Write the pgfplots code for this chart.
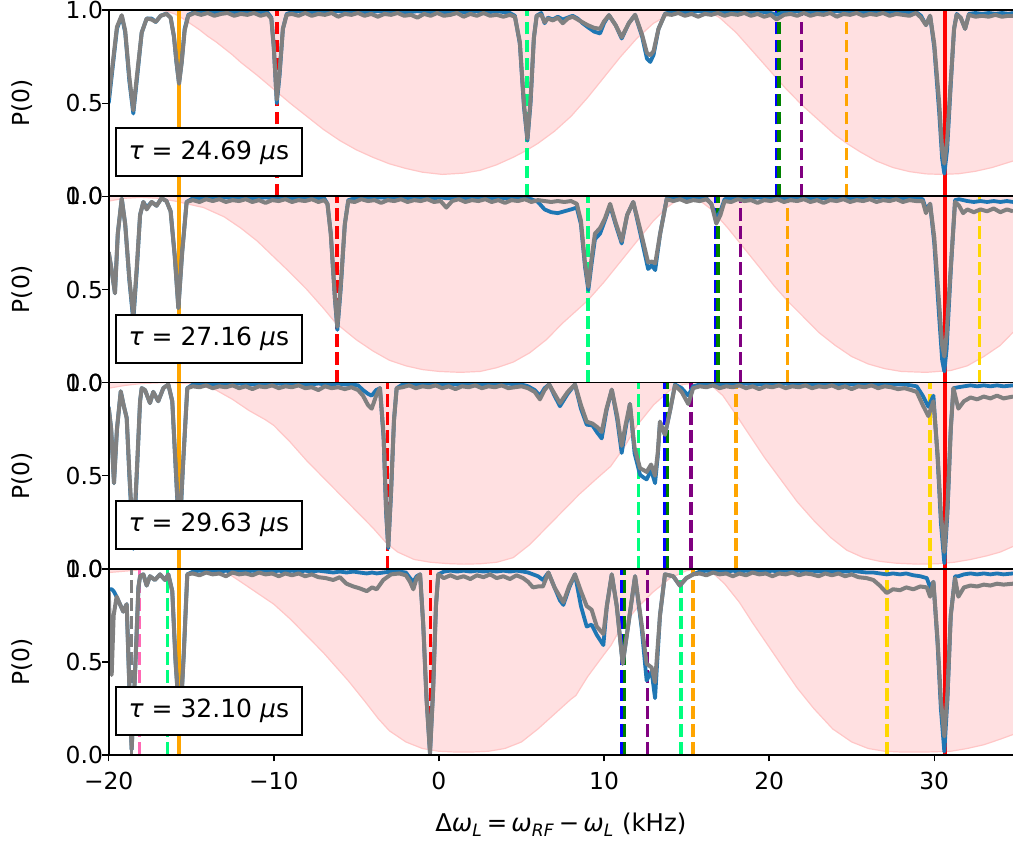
\documentclass[border=0pt]{standalone}
\usepackage{fontspec}
\setmainfont{DejaVu Sans}
\usepackage{pgfplots}
\pgfplotsset{compat=1.18}
\usepackage{pgfplotstable}

\definecolor{mplblue}{RGB}{31,119,180}
\definecolor{mplgray}{RGB}{128,128,128}
\definecolor{pinkbg}{RGB}{255,224,225}
\definecolor{pinkln}{RGB}{255,198,198}
\definecolor{sgreen}{RGB}{0,255,127}
\definecolor{mgreen}{RGB}{0,128,0}
\definecolor{mblue}{RGB}{0,0,255}
\definecolor{mpurple}{RGB}{128,0,128}
\definecolor{morange}{RGB}{255,165,0}
\definecolor{mgold}{RGB}{255,215,0}
\definecolor{mpink}{RGB}{255,105,180}
\definecolor{mcyan}{RGB}{0,191,191}
\definecolor{mred}{RGB}{255,0,0}

\newcommand\tf{\fontsize{11.7}{14}\selectfont}
\newcommand\lf{\fontsize{12.2}{14}\selectfont}
\newcommand{\vl}[2]{\addplot[#1, line width=1.75pt, dash pattern=on 6.3pt off 2.7pt, forget plot] coordinates {(#2,0) (#2,1)};}
\newcommand{\vs}[2]{\addplot[#1, line width=2pt, forget plot] coordinates {(#2,0) (#2,1)};}

\pgfplotsset{
  panel/.style={
    scale only axis, width=452.15pt, height=93.1pt,
    xmin=-20, xmax=34.77, ymin=0, ymax=1,
    axis line style={draw=none},
    axis background/.style={fill=pinkbg},
    clip mode=individual,
    ytick={0,0.5,1}, yticklabels={0.0,0.5,1.0},
    tick align=outside, major tick length=3.2pt,
    every tick/.style={black, line width=0.75pt},
    ytick pos=left, xtick pos=left,
    tick label style={font=\tf},
    yticklabel style={anchor=east, inner sep=0pt, xshift=0.5pt},
    ylabel={P(0)},
    ylabel style={at={(axis description cs:-0.0959,0.5)}, anchor=center, inner sep=0pt, font=\tf},
  },
  blu/.style={mplblue, line width=1.9pt, line join=round},
  gry/.style={mplgray, line width=2.0pt, line join=round},
}
\newcommand{\spines}{\draw[line width=0.9pt] (rel axis cs:1,0) -- (rel axis cs:0,0) -- (rel axis cs:0,1) -- (rel axis cs:1,1);}
\newcommand{\taubox}[1]{\node[draw=black, line width=1pt, fill=white, anchor=south west, inner xsep=6.3pt, inner ysep=0pt, minimum height=24pt, font=\fontsize{12.5}{15}\selectfont] at ([xshift=3.15pt,yshift=9.5pt]rel axis cs:0,0) {\textit{τ} = #1 \textit{μ}s};}
\newcommand{\pinkcurve}[1]{%
  \addplot[fill=white, draw=none, forget plot] table[x=x,y=y]{#1} \closedcycle;
  \addplot[pinkln, line width=0.6pt, forget plot] table[x=x,y=y]{#1};}

% ---------------- pink filter curves ----------------
\pgfplotstableread{
x y
-20 1.0
-17 1.0
-16.5 0.995
-16 0.98
-15.5 0.955
-15 0.925
-14.5 0.895
-14 0.86
-13.5 0.83
-13 0.795
-12.5 0.76
-12 0.72
-11 0.65
-10 0.575
-9 0.50
-8 0.43
-7 0.36
-6 0.30
-5 0.25
-4 0.21
-3 0.175
-2 0.15
-1 0.13
0.2 0.118
1.5 0.125
2.5 0.14
3.5 0.17
4.5 0.21
5.3 0.247
6 0.285
7 0.35
8 0.43
9 0.53
10 0.64
11 0.75
12 0.85
13 0.93
14 0.98
14.7 0.997
15.3 1.0
15.9 0.997
16.5 0.985
17 0.96
18 0.88
19 0.78
20 0.68
21 0.58
22 0.49
23 0.41
24 0.33
24.7 0.285
25.5 0.24
26.5 0.19
27.5 0.155
28.5 0.133
29.5 0.121
30.45 0.118
31.5 0.122
32.5 0.135
33.5 0.155
34.77 0.19
}\pA
\pgfplotstableread{
x y
-20 0.975
-19 0.99
-18 0.995
-17 0.99
-16 0.975
-15 0.955
-14.25 0.94
-13 0.89
-12 0.83
-11 0.76
-10 0.675
-9 0.59
-8 0.50
-7 0.40
-6.25 0.32
-5 0.23
-4 0.17
-3 0.12
-2 0.09
-1 0.07
0 0.06
1.3 0.055
2.5 0.06
3.5 0.08
4.5 0.11
5.5 0.16
6.5 0.23
7.5 0.32
8.5 0.40
9 0.44
10 0.54
11 0.65
12 0.76
13 0.87
13.8 0.94
14.5 0.985
15.1 1.0
15.7 0.985
16.5 0.93
17.5 0.83
18.5 0.72
19.5 0.61
20.3 0.52
21.1 0.44
22 0.36
23 0.27
24 0.20
25 0.14
26 0.10
27 0.075
28 0.06
29.5 0.055
31 0.065
32 0.09
33 0.14
34 0.20
34.77 0.27
}\pB
\pgfplotstableread{
x y
-20 0.97
-19 0.985
-18 0.995
-16.5 1.0
-15 0.995
-14.5 0.985
-13.5 0.96
-12.5 0.91
-11.5 0.85
-10.5 0.80
-10 0.77
-9 0.68
-8 0.58
-7 0.49
-6 0.40
-5 0.31
-4 0.22
-3.2 0.14
-2.5 0.09
-1.5 0.05
-0.5 0.035
0.5 0.028
1.5 0.025
2.5 0.027
3.5 0.035
4.5 0.06
5.5 0.13
6.5 0.22
7.5 0.31
8.5 0.40
9.5 0.48
10.4 0.55
11.2 0.65
12 0.77
13 0.88
14 0.96
14.8 0.99
15.7 1.0
16.5 0.985
17.2 0.93
17.9 0.84
18.8 0.72
19.7 0.60
20.7 0.48
21.7 0.36
22.7 0.26
23.7 0.17
24.7 0.10
25.7 0.06
26.7 0.04
27.7 0.03
29.0 0.025
30.2 0.027
31.2 0.035
32.2 0.05
33.2 0.07
34 0.09
34.77 0.12
}\pC
\pgfplotstableread{
x y
-20 0.98
-18 0.995
-16 1.0
-13.5 0.995
-12.85 0.98
-12 0.93
-11 0.87
-10 0.81
-9 0.73
-8 0.64
-7 0.55
-6.5 0.50
-5.5 0.40
-4.5 0.29
-3.67 0.195
-3 0.13
-2 0.07
-1 0.035
0 0.02
1 0.016
2 0.016
3 0.02
4 0.035
5 0.07
6 0.14
7 0.22
8 0.30
8.3 0.32
9 0.42
10 0.54
10.43 0.59
11 0.68
12 0.79
12.9 0.87
14 0.95
15 0.99
15.7 1.0
16.5 0.985
17.3 0.92
18.2 0.82
19 0.71
20 0.58
21 0.45
21.7 0.36
22.7 0.25
23.85 0.14
25 0.07
26 0.035
27 0.02
28 0.016
29.5 0.016
31 0.02
32 0.035
33 0.055
34 0.085
34.77 0.11
}\pD

% ---------------- measured P(0) curves: x, blue, gray ----------------
\pgfplotstableread{
x b g
-20.00 0.50 0.53
-19.80 0.66 0.68
-19.50 0.90 0.91
-19.21 0.97 0.973
-19.00 0.88 0.89
-18.75 0.62 0.64
-18.51 0.445 0.462
-18.30 0.62 0.64
-18.00 0.88 0.88
-17.70 0.955 0.955
-17.40 0.955 0.95
-17.15 0.937 0.937
-16.85 0.97 0.97
-16.50 0.982 0.98
-16.25 0.96 0.96
-16.05 0.86 0.86
-15.90 0.72 0.73
-15.74 0.606 0.606
-15.58 0.72 0.72
-15.40 0.90 0.89
-15.18 0.975 0.97
-14.80 0.99 0.985
-14.40 0.99 0.975
-14.00 0.995 0.985
-13.60 0.99 0.97
-13.20 0.99 0.98
-12.80 0.995 0.985
-12.40 0.99 0.97
-12.00 0.99 0.98
-11.60 0.995 0.975
-11.20 0.99 0.985
-10.80 0.99 0.97
-10.40 0.99 0.98
-10.15 0.96 0.955
-10.00 0.80 0.80
-9.82 0.50 0.52
-9.65 0.65 0.67
-9.45 0.90 0.90
-9.22 0.98 0.975
-8.90 0.99 0.98
-8.50 0.995 0.97
-8.10 0.99 0.985
-7.70 0.99 0.97
-7.30 0.995 0.98
-6.90 0.99 0.975
-6.50 0.99 0.985
-6.10 0.995 0.965
-5.70 0.99 0.98
-5.30 0.99 0.975
-4.90 0.995 0.985
-4.50 0.99 0.97
-4.10 0.99 0.98
-3.70 0.995 0.965
-3.30 0.99 0.98
-2.90 0.99 0.975
-2.50 0.995 0.985
-2.10 0.99 0.97
-1.70 0.99 0.975
-1.30 0.995 0.96
-0.90 0.99 0.98
-0.50 0.99 0.97
-0.10 0.995 0.985
0.30 0.99 0.97
0.70 0.99 0.975
1.10 0.995 0.985
1.50 0.99 0.965
1.90 0.99 0.98
2.30 0.995 0.97
2.70 0.99 0.985
3.10 0.99 0.97
3.50 0.995 0.975
3.90 0.99 0.965
4.30 0.985 0.975
4.60 0.97 0.965
4.90 0.82 0.83
5.15 0.48 0.50
5.36 0.30 0.31
5.55 0.50 0.52
5.75 0.85 0.85
5.92 0.97 0.97
6.20 0.985 0.975
6.40 0.93 0.935
6.60 0.96 0.955
6.90 0.95 0.945
7.20 0.965 0.96
7.50 0.95 0.93
7.80 0.96 0.955
8.10 0.97 0.965
8.40 0.955 0.95
8.70 0.93 0.935
9.00 0.91 0.92
9.40 0.885 0.905
9.76 0.875 0.90
10.00 0.93 0.94
10.30 0.973 0.973
10.70 0.92 0.92
11.07 0.848 0.855
11.50 0.93 0.93
11.88 0.975 0.975
12.30 0.86 0.87
12.60 0.74 0.77
12.80 0.722 0.758
13.00 0.76 0.78
13.30 0.90 0.90
13.70 0.982 0.98
14.10 0.99 0.975
14.50 0.995 0.985
14.90 0.99 0.97
15.30 0.99 0.98
15.70 0.995 0.965
16.10 0.99 0.98
16.50 0.99 0.975
16.90 0.995 0.985
17.30 0.99 0.97
17.70 0.99 0.98
18.10 0.995 0.975
18.50 0.99 0.985
18.90 0.99 0.97
19.30 0.995 0.98
19.70 0.99 0.965
20.10 0.985 0.975
20.45 0.975 0.95
20.90 0.99 0.975
21.30 0.99 0.98
21.70 0.995 0.97
22.10 0.99 0.985
22.50 0.99 0.97
22.90 0.995 0.98
23.30 0.99 0.975
23.70 0.99 0.985
24.10 0.995 0.965
24.50 0.99 0.98
24.90 0.99 0.975
25.30 0.995 0.985
25.70 0.99 0.97
26.10 0.99 0.98
26.50 0.995 0.975
26.90 0.99 0.985
27.30 0.99 0.97
27.70 0.995 0.98
28.10 0.99 0.975
28.50 0.985 0.97
28.90 0.99 0.985
29.20 0.97 0.96
29.50 0.92 0.92
29.75 0.97 0.97
30.00 0.80 0.82
30.30 0.45 0.50
30.48 0.20 0.25
30.61 0.122 0.176
30.78 0.25 0.30
31.00 0.60 0.62
31.20 0.90 0.90
31.36 0.98 0.975
31.60 0.96 0.96
31.87 0.90 0.90
32.10 0.98 0.975
32.50 0.985 0.965
32.90 0.98 0.97
33.30 0.985 0.965
33.70 0.98 0.975
34.10 0.985 0.965
34.50 0.98 0.97
34.77 0.985 0.97
}\tA
\pgfplotstableread{
x b g
-20.00 0.70 0.70
-19.85 0.62 0.62
-19.62 0.48 0.48
-19.45 0.80 0.80
-19.21 0.988 0.988
-19.00 0.85 0.85
-18.75 0.55 0.56
-18.51 0.33 0.355
-18.30 0.60 0.62
-18.10 0.90 0.90
-17.90 0.97 0.97
-17.70 0.94 0.93
-17.40 0.97 0.97
-17.10 0.95 0.95
-16.80 0.99 0.99
-16.50 0.975 0.975
-16.25 0.92 0.92
-16.00 0.68 0.68
-15.78 0.40 0.40
-15.55 0.70 0.70
-15.28 0.97 0.97
-14.90 0.99 0.98
-14.50 0.99 0.97
-14.10 0.995 0.985
-13.70 0.99 0.975
-13.30 0.99 0.985
-12.90 0.995 0.97
-12.50 0.99 0.98
-12.10 0.99 0.975
-11.70 0.995 0.985
-11.30 0.99 0.97
-10.90 0.99 0.98
-10.50 0.995 0.965
-10.10 0.99 0.98
-9.70 0.99 0.975
-9.30 0.995 0.985
-8.90 0.99 0.97
-8.50 0.99 0.98
-8.10 0.995 0.975
-7.70 0.99 0.985
-7.30 0.99 0.97
-6.95 0.99 0.98
-6.75 0.96 0.96
-6.55 0.80 0.80
-6.30 0.45 0.46
-6.15 0.283 0.30
-5.95 0.50 0.52
-5.70 0.85 0.85
-5.49 0.98 0.975
-5.10 0.99 0.97
-4.70 0.995 0.985
-4.30 0.99 0.975
-3.90 0.99 0.98
-3.50 0.995 0.965
-3.10 0.99 0.98
-2.70 0.99 0.975
-2.30 0.995 0.985
-1.90 0.99 0.97
-1.50 0.99 0.98
-1.10 0.995 0.975
-0.70 0.99 0.985
-0.30 0.99 0.97
0.10 0.995 0.975
0.45 0.99 0.94
0.80 0.99 0.975
1.20 0.995 0.985
1.60 0.99 0.97
2.00 0.99 0.98
2.40 0.995 0.975
2.80 0.99 0.985
3.20 0.99 0.97
3.60 0.995 0.98
4.00 0.99 0.965
4.40 0.99 0.98
4.80 0.995 0.975
5.20 0.99 0.985
5.60 0.985 0.97
6.00 0.97 0.98
6.40 0.93 0.975
6.80 0.915 0.97
7.20 0.91 0.975
7.60 0.92 0.97
8.00 0.93 0.975
8.35 0.94 0.96
8.60 0.85 0.87
8.85 0.62 0.64
9.05 0.497 0.515
9.25 0.64 0.67
9.45 0.77 0.80
9.76 0.80 0.83
10.05 0.87 0.88
10.37 0.95 0.96
10.70 0.85 0.86
11.07 0.747 0.76
11.40 0.90 0.90
11.77 0.97 0.97
12.20 0.80 0.82
12.67 0.61 0.645
12.90 0.63 0.65
13.10 0.604 0.64
13.40 0.80 0.80
13.80 0.99 0.985
14.20 0.99 0.975
14.60 0.995 0.985
15.00 0.99 0.97
15.40 0.99 0.98
15.80 0.995 0.975
16.20 0.99 0.985
16.50 0.96 0.96
16.80 0.88 0.854
17.05 0.92 0.90
17.30 0.985 0.975
17.70 0.99 0.97
18.10 0.995 0.985
18.50 0.99 0.975
18.90 0.99 0.98
19.30 0.995 0.965
19.70 0.99 0.98
20.10 0.99 0.975
20.50 0.995 0.985
20.90 0.99 0.97
21.30 0.99 0.98
21.70 0.995 0.975
22.10 0.99 0.985
22.50 0.99 0.97
22.90 0.995 0.98
23.30 0.99 0.965
23.70 0.99 0.98
24.10 0.995 0.975
24.50 0.99 0.985
24.90 0.99 0.97
25.30 0.995 0.98
25.70 0.99 0.975
26.10 0.99 0.985
26.50 0.995 0.97
26.90 0.99 0.98
27.30 0.99 0.975
27.70 0.995 0.985
28.10 0.99 0.97
28.50 0.99 0.98
28.90 0.99 0.975
29.30 0.985 0.975
29.50 0.93 0.91
29.75 0.96 0.96
30.00 0.75 0.78
30.30 0.35 0.42
30.48 0.12 0.20
30.61 0.06 0.14
30.75 0.18 0.26
31.00 0.60 0.62
31.26 0.98 0.97
31.50 0.985 0.95
31.75 0.98 0.91
32.00 0.975 0.93
32.40 0.97 0.915
32.80 0.975 0.93
33.20 0.97 0.92
33.60 0.975 0.935
34.00 0.97 0.915
34.40 0.975 0.93
34.77 0.97 0.92
}\tB
\pgfplotstableread{
x b g
-20.00 0.87 0.864
-19.85 0.75 0.75
-19.68 0.46 0.46
-19.50 0.75 0.75
-19.27 0.953 0.953
-19.10 0.88 0.88
-18.91 0.81 0.81
-18.75 0.50 0.52
-18.51 0.107 0.14
-18.30 0.50 0.52
-18.10 0.90 0.90
-18.00 0.97 0.97
-17.80 0.96 0.96
-17.50 0.89 0.89
-17.30 0.95 0.95
-17.00 0.90 0.90
-16.69 0.97 0.97
-16.39 0.99 0.99
-16.15 0.90 0.90
-15.95 0.55 0.56
-15.72 0.15 0.18
-15.50 0.55 0.56
-15.24 0.97 0.97
-14.90 0.99 0.98
-14.50 0.995 0.975
-14.10 0.99 0.985
-13.70 0.99 0.97
-13.30 0.995 0.98
-12.90 0.99 0.975
-12.50 0.99 0.985
-12.10 0.995 0.97
-11.70 0.99 0.98
-11.30 0.99 0.965
-10.90 0.995 0.98
-10.50 0.99 0.975
-10.10 0.99 0.985
-9.70 0.995 0.97
-9.30 0.99 0.98
-8.90 0.99 0.975
-8.50 0.995 0.985
-8.10 0.99 0.97
-7.70 0.99 0.975
-7.30 0.995 0.96
-6.90 0.99 0.98
-6.50 0.99 0.97
-6.10 0.995 0.975
-5.70 0.99 0.965
-5.30 0.99 0.975
-4.90 0.985 0.96
-4.60 0.96 0.93
-4.30 0.94 0.88
-4.07 0.93 0.86
-3.80 0.96 0.93
-3.57 0.97 0.97
-3.35 0.70 0.72
-3.20 0.30 0.33
-3.07 0.11 0.12
-2.90 0.40 0.42
-2.72 0.80 0.80
-2.56 0.97 0.97
-2.20 0.99 0.975
-1.80 0.995 0.985
-1.40 0.99 0.97
-1.00 0.99 0.98
-0.60 0.995 0.975
-0.20 0.99 0.985
0.20 0.99 0.97
0.60 0.995 0.98
1.00 0.99 0.965
1.40 0.99 0.98
1.80 0.995 0.975
2.20 0.99 0.985
2.60 0.99 0.97
3.00 0.995 0.98
3.40 0.99 0.975
3.80 0.99 0.985
4.20 0.995 0.97
4.60 0.99 0.975
5.00 0.99 0.98
5.40 0.98 0.97
5.80 0.96 0.95
6.12 0.93 0.91
6.40 0.97 0.96
6.68 0.99 0.99
7.00 0.93 0.94
7.33 0.873 0.89
7.80 0.94 0.95
8.24 0.99 0.99
8.60 0.86 0.88
8.95 0.774 0.79
9.30 0.77 0.78
9.60 0.73 0.76
9.86 0.70 0.735
10.15 0.85 0.86
10.47 0.962 0.962
10.80 0.80 0.82
11.07 0.622 0.66
11.30 0.75 0.77
11.57 0.885 0.885
11.85 0.62 0.65
12.18 0.505 0.54
12.40 0.49 0.53
12.58 0.48 0.52
12.85 0.53 0.56
13.09 0.46 0.50
13.25 0.60 0.62
13.39 0.79 0.79
13.55 0.75 0.75
13.69 0.72 0.72
14.00 0.85 0.85
14.30 0.99 0.985
14.70 0.97 0.95
15.10 0.93 0.885
15.40 0.98 0.97
15.80 0.99 0.98
16.20 0.995 0.975
16.60 0.99 0.985
17.00 0.99 0.97
17.40 0.995 0.98
17.80 0.99 0.975
18.20 0.99 0.985
18.60 0.995 0.97
19.00 0.99 0.98
19.40 0.99 0.965
19.80 0.995 0.98
20.20 0.99 0.975
20.60 0.99 0.985
21.00 0.995 0.97
21.40 0.99 0.98
21.80 0.99 0.975
22.20 0.995 0.985
22.60 0.99 0.97
23.00 0.99 0.98
23.40 0.995 0.975
23.80 0.99 0.985
24.20 0.99 0.97
24.60 0.995 0.98
25.00 0.99 0.965
25.40 0.99 0.98
25.80 0.995 0.975
26.20 0.99 0.985
26.60 0.99 0.97
27.00 0.995 0.98
27.40 0.99 0.975
27.80 0.99 0.965
28.20 0.99 0.97
28.60 0.985 0.96
28.94 0.98 0.95
29.30 0.93 0.88
29.64 0.87 0.82
29.95 0.93 0.90
30.20 0.60 0.62
30.40 0.25 0.30
30.61 0.03 0.09
30.80 0.30 0.33
31.00 0.75 0.75
31.16 0.97 0.97
31.46 0.975 0.86
31.80 0.98 0.90
32.20 0.985 0.92
32.60 0.98 0.91
33.00 0.985 0.925
33.40 0.98 0.915
33.80 0.985 0.93
34.20 0.98 0.915
34.77 0.985 0.925
}\tC
\pgfplotstableread{
x b g
-20.00 0.89 0.88
-19.90 0.89 0.60
-19.82 0.89 0.43
-19.70 0.88 0.75
-19.52 0.85 0.85
-19.32 0.81 0.81
-19.12 0.77 0.77
-18.91 0.81 0.81
-18.78 0.45 0.45
-18.61 0.03 0.03
-18.40 0.45 0.45
-18.20 0.90 0.90
-18.10 0.96 0.96
-17.90 0.97 0.97
-17.70 0.91 0.91
-17.50 0.96 0.96
-17.20 0.94 0.94
-16.89 0.97 0.97
-16.59 0.94 0.94
-16.39 0.97 0.97
-16.15 0.88 0.88
-15.95 0.50 0.50
-15.68 0.15 0.15
-15.45 0.55 0.55
-15.24 0.97 0.97
-14.90 0.985 0.975
-14.50 0.99 0.965
-14.10 0.985 0.98
-13.70 0.99 0.97
-13.30 0.985 0.975
-12.90 0.99 0.96
-12.50 0.985 0.98
-12.10 0.99 0.97
-11.70 0.985 0.975
-11.30 0.99 0.965
-10.90 0.985 0.98
-10.50 0.99 0.97
-10.10 0.985 0.975
-9.70 0.99 0.96
-9.30 0.985 0.975
-8.90 0.99 0.965
-8.50 0.985 0.975
-8.10 0.99 0.96
-7.70 0.985 0.97
-7.30 0.99 0.955
-6.85 0.985 0.95
-6.40 0.98 0.94
-6.00 0.985 0.955
-5.60 0.98 0.92
-5.18 0.985 0.905
-4.80 0.98 0.895
-4.37 0.975 0.88
-4.05 0.98 0.90
-3.77 0.975 0.89
-3.37 0.98 0.94
-2.90 0.985 0.97
-2.40 0.985 0.975
-2.00 0.98 0.965
-1.75 0.95 0.93
-1.55 0.93 0.89
-1.35 0.96 0.95
-1.14 0.97 0.97
-0.95 0.70 0.70
-0.75 0.30 0.30
-0.54 0.01 0.01
-0.35 0.35 0.35
-0.18 0.80 0.80
-0.04 0.97 0.97
0.30 0.985 0.95
0.70 0.99 0.965
1.10 0.985 0.95
1.50 0.99 0.96
1.90 0.985 0.945
2.30 0.99 0.965
2.70 0.985 0.955
3.10 0.99 0.97
3.50 0.985 0.95
3.90 0.99 0.96
4.30 0.985 0.945
4.70 0.99 0.965
5.10 0.985 0.95
5.40 0.98 0.93
5.70 0.97 0.90
6.00 0.96 0.905
6.30 0.94 0.905
6.63 0.98 0.98
7.00 0.90 0.90
7.33 0.83 0.85
7.54 0.806 0.82
7.90 0.90 0.91
8.24 0.97 0.97
8.60 0.80 0.88
8.95 0.69 0.80
9.25 0.70 0.78
9.56 0.645 0.69
9.96 0.59 0.65
10.17 0.80 0.80
10.47 0.97 0.97
10.77 0.80 0.80
11.13 0.49 0.49
11.47 0.70 0.70
11.88 0.96 0.96
12.28 0.68 0.70
12.58 0.40 0.49
12.88 0.45 0.47
13.09 0.305 0.39
13.39 0.75 0.75
13.69 0.97 0.97
14.19 0.96 0.96
14.59 0.91 0.91
14.99 0.95 0.95
15.40 0.97 0.97
15.80 0.985 0.975
16.20 0.99 0.965
16.60 0.985 0.98
17.00 0.99 0.97
17.40 0.985 0.975
17.80 0.99 0.96
18.20 0.985 0.975
18.60 0.99 0.965
19.00 0.985 0.98
19.40 0.99 0.97
19.80 0.985 0.975
20.20 0.99 0.96
20.60 0.985 0.975
21.00 0.99 0.97
21.40 0.985 0.98
21.80 0.99 0.965
22.20 0.985 0.975
22.60 0.99 0.97
23.00 0.985 0.96
23.40 0.99 0.975
23.80 0.985 0.965
24.20 0.99 0.975
24.60 0.985 0.96
25.00 0.99 0.97
25.40 0.985 0.955
25.90 0.98 0.95
26.31 0.98 0.94
26.70 0.975 0.91
27.12 0.97 0.87
27.50 0.975 0.89
27.93 0.97 0.885
28.30 0.975 0.90
28.74 0.965 0.89
29.15 0.96 0.905
29.55 0.95 0.90
29.75 0.90 0.85
29.95 0.93 0.93
30.20 0.60 0.62
30.40 0.25 0.30
30.61 0.018 0.10
30.80 0.30 0.33
31.00 0.75 0.75
31.26 0.96 0.95
31.46 0.96 0.85
31.80 0.97 0.90
32.20 0.975 0.91
32.60 0.97 0.905
33.00 0.975 0.915
33.40 0.97 0.91
33.80 0.975 0.92
34.20 0.97 0.915
34.77 0.975 0.92
}\tD

\begin{document}
\begin{tikzpicture}
% ---------- panel 1 ----------
\begin{axis}[panel, at={(54.35pt,323.8pt)}, anchor=south west, xtick=\empty]
\pinkcurve{\pA}
\vs{morange}{-15.74}
\vs{mred}{30.63}
\vl{mred}{-9.82}
\vl{sgreen}{5.34}
\vl{mblue}{20.44}
\vl{mgreen}{20.59}
\vl{mpurple}{21.97}
\vl{morange}{24.70}
\addplot[blu] table[x=x,y=b]{\tA};
\addplot[gry] table[x=x,y=g]{\tA};
\taubox{24.69}
\spines
\end{axis}
% ---------- panel 2 ----------
\begin{axis}[panel, at={(54.35pt,230.7pt)}, anchor=south west, xtick=\empty]
\pinkcurve{\pB}
\vs{morange}{-15.76}
\vs{mred}{30.63}
\vl{mred}{-6.17}
\vl{sgreen}{9.03}
\vl{mblue}{16.76}
\vl{mgreen}{16.91}
\vl{mpurple}{18.27}
\vl{morange}{21.10}
\vl{mgold}{32.74}
\addplot[blu] table[x=x,y=b]{\tB};
\addplot[gry] table[x=x,y=g]{\tB};
\taubox{27.16}
\spines
\end{axis}
% ---------- panel 3 ----------
\begin{axis}[panel, at={(54.35pt,137.6pt)}, anchor=south west, xtick=\empty]
\pinkcurve{\pC}
\vs{morange}{-15.74}
\vs{mred}{30.63}
\vl{mred}{-3.10}
\vl{sgreen}{12.10}
\vl{mblue}{13.69}
\vl{mgreen}{13.84}
\vl{mpurple}{15.27}
\vl{morange}{18.00}
\vl{mgold}{29.75}
\addplot[blu] table[x=x,y=b]{\tC};
\addplot[gry] table[x=x,y=g]{\tC};
\taubox{29.63}
\spines
\end{axis}
% ---------- panel 4 ----------
\begin{axis}[panel, at={(54.35pt,44.5pt)}, anchor=south west,
  xtick={-20,-10,0,10,20,30}, xticklabels={−20,−10,0,10,20,30},
  xticklabel style={inner sep=0pt, anchor=north, yshift=-5pt},
  xlabel={Δ\textit{ω}\textsubscript{\textit{L}}\,=\,\textit{ω}\textsubscript{\textit{RF}}\,−\,\textit{ω}\textsubscript{\textit{L}} (kHz)},
  xlabel style={at={(axis description cs:0.5,0)}, anchor=north, inner sep=0pt, yshift=-29pt, font=\lf}]
\pinkcurve{\pD}
\vs{morange}{-15.74}
\vs{mred}{30.63}
\vl{mcyan}{-20.0}
\vl{mplgray}{-18.62}
\vl{mpink}{-18.13}
\vl{sgreen}{-16.45}
\vl{mred}{-0.52}
\vl{mblue}{11.10}
\vl{mgreen}{11.24}
\vl{mpurple}{12.63}
\vl{sgreen}{14.67}
\vl{morange}{15.38}
\vl{mgold}{27.13}
\addplot[blu] table[x=x,y=b]{\tD};
\addplot[gry] table[x=x,y=g]{\tD};
\taubox{32.10}
\spines
\end{axis}
\pgfresetboundingbox
\path[use as bounding box] (0,0) rectangle (506.5pt,422pt);
\end{tikzpicture}
\end{document}
